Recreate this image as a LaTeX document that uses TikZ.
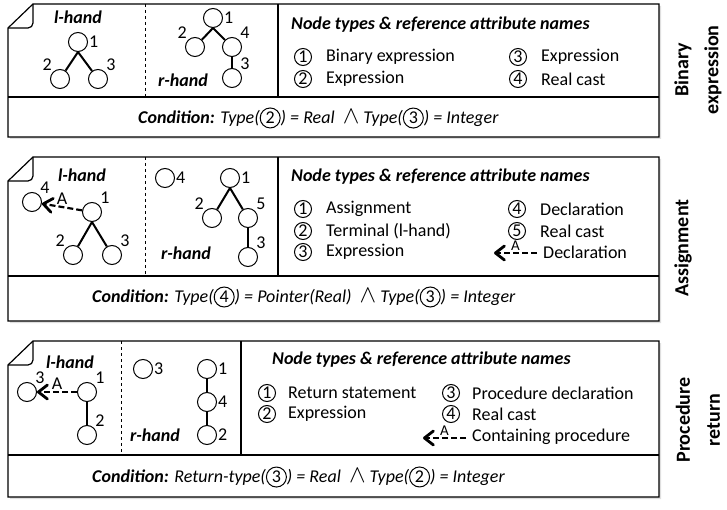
\documentclass[tikz,border=0pt]{standalone}
\usepackage{fontspec}
\setmainfont{Carlito}
\usetikzlibrary{arrows.meta,positioning,shadows}
\tikzset{>=latex}
\tikzset{
  tn/.style={circle,draw,line width=1pt,minimum size=19pt,inner sep=0pt},
  lbl/.style={font=\fontsize{18}{20}\selectfont,inner sep=1pt},
  hand/.style={font=\bfseries\itshape\fontsize{18}{20}\selectfont,inner sep=0pt},
  edge/.style={line width=2pt},
  aref/.style={line width=2.2pt,dash pattern=on 6pt off 3pt,
    arrows={-Straight Barb[length=9pt,width=14pt,line width=2.8pt,round]}},
  frame/.style={line width=1.2pt},
  head/.style={anchor=west,font=\bfseries\itshape\fontsize{18}{20}\selectfont,inner sep=0pt},
  cnum/.style={circle,draw,line width=1pt,minimum size=17pt,inner sep=0pt,
    font=\fontsize{18}{20}\selectfont},
  item/.style={font=\fontsize{18}{20}\selectfont,inner sep=0pt},
  cond/.style={anchor=west,font=\itshape\fontsize{18}{20}\selectfont,inner sep=0pt},
  side/.style={rotate=90,align=center,font=\bfseries\fontsize{20}{30}\selectfont}
}
\newcommand{\cn}[1]{\tikz[baseline=(cc.base)]\node[cnum,font=\upshape\fontsize{18}{20}\selectfont,minimum size=20pt] (cc) {#1};}
\newcommand{\andop}{\ \ {\fontsize{24}{24}\selectfont$\land$}\ }

\begin{document}
\begin{tikzpicture}[x=1pt,y=1pt]
    \useasboundingbox (0,0) rectangle (727,-510);

    % note frames
    \foreach \t/\b/\m/\d/\s in {4/137/97/145/278,157/321/276/145/278,341/497/455/121/241} {
      \draw [frame,fill=white,drop shadow={shadow xshift=2pt,shadow yshift=-2pt,fill=black!25}]
        (8,-\t-24) -- (33,-\t) -- (659,-\t) -- (659,-\b) -- (8,-\b) -- cycle;
      \draw [frame,rounded corners=5pt] (33,-\t) -- (33,-\t-24) -- (8,-\t-24);
      \draw [frame] (8,-\m) -- (659,-\m);
      \draw [frame] (\s,-\t) -- (\s,-\m);
      \draw [dashed,line width=0.8pt] (\d,-\t) -- (\d,-\m);
    }

    % binary expression
    \node [hand] at (78,-17) {l-hand};
    \node [tn,label={[lbl]right:1}] (a1) at (78,-42) {};
    \node [tn,label={[lbl]north west:2}] (a2) at (60,-79) {};
    \node [tn,label={[lbl]north east:3}] (a3) at (98,-79) {};
    \draw [edge] (a1.south) -- (a2);
    \draw [edge] (a1.south) -- (a3);

    \node [tn,label={[lbl]right:1}] (b1) at (213,-18) {};
    \node [tn,label={[lbl]north west:2}] (b2) at (195,-47) {};
    \node [tn,label={[lbl]north east:4}] (b4) at (232,-47) {};
    \node [tn,label={[lbl]north east:3}] (b3) at (232,-78) {};
    \draw [edge] (b1.south) -- (b2);
    \draw [edge] (b1.south) -- (b4);
    \draw [edge] (b4) -- (b3);
    \node [hand] at (183,-80) {r-hand};

    \node [head] (h1) at (291,-25) {Node types \& reference attribute names};
    \node [cnum] (c11) at (303,-57) {1};
    \node [item,right=14pt of c11] {Binary expression};
    \node [cnum] (c12) at (303,-79) {2};
    \node [item,right=14pt of c12] {Expression};
    \node [cnum] (c13) at (518,-57) {3};
    \node [item,right=14pt of c13] {Expression};
    \node [cnum] (c14) at (518,-79) {4};
    \node [item,right=14pt of c14] {Real cast};
    \node [cond] at (138,-118) {\textbf{Condition:} Type(\cn{2}) = Real\andop Type(\cn{3}) = Integer};
    \node [side] at (698,-70) {Binary\\expression};

    % assignment
    \node [hand] at (82,-175) {l-hand};
    \node [tn,label={[lbl]north east:4}] (d4) at (32,-202) {};
    \node [tn,label={[lbl]north east:1}] (d1) at (92,-212) {};
    \node [tn,label={[lbl]north west:2}] (d2) at (73,-255) {};
    \node [tn,label={[lbl]north east:3}] (d3) at (112,-255) {};
    \draw [edge] (d1.south) -- (d2);
    \draw [edge] (d1.south) -- (d3);
    \draw [aref] (d1) -- node [lbl,above] {A} (d4);

    \node [tn,label={[lbl]right:4}] (e4) at (165,-178) {};
    \node [tn,label={[lbl]right:1}] (e1) at (230,-178) {};
    \node [tn,label={[lbl]north west:2}] (e2) at (212,-218) {};
    \node [tn,label={[lbl]north east:5}] (e5) at (248,-218) {};
    \node [tn,label={[lbl]north east:3}] (e3) at (248,-257) {};
    \draw [edge] (e1.south) -- (e2);
    \draw [edge] (e1.south) -- (e5);
    \draw [edge] (e5) -- (e3);
    \node [hand] at (186,-253) {r-hand};

    \node [head] (h2) at (291,-177) {Node types \& reference attribute names};
    \node [cnum] (c21) at (303,-209) {1};
    \node [item,right=14pt of c21] {Assignment};
    \node [cnum] (c22) at (303,-231) {2};
    \node [item,right=14pt of c22] {Terminal (l-hand)};
    \node [cnum] (c23) at (303,-252) {3};
    \node [item,right=14pt of c23] {Expression};
    \node [cnum] (c24) at (517,-209) {4};
    \node [item,right=14pt of c24] {Declaration};
    \node [cnum] (c25) at (517,-231) {5};
    \node [item,right=14pt of c25] {Real cast};
    \coordinate (r2s) at (537,-253);
    \coordinate (r2e) at (494,-253);
    \draw [aref] (r2s) -- node [lbl,above,font=\fontsize{15}{18}\selectfont] {A} (r2e);
    \node [item,anchor=west] at (543,-252) {Declaration};
    \node [cond] at (92,-297) {\textbf{Condition:} Type(\cn{4}) = Pointer(Real)\andop Type(\cn{3}) = Integer};
    \node [side] at (683,-248) {Assignment};

    % procedure return
    \node [hand] at (70,-362) {l-hand};
    \node [tn,label={[lbl]north east:3}] (f3) at (27,-392) {};
    \node [tn,label={[lbl]north east:1}] (f1) at (87,-392) {};
    \node [tn,label={[lbl]north east:2}] (f2) at (87,-435) {};
    \draw [edge] (f1) -- (f2);
    \draw [aref] (f1) -- node [lbl,above] {A} (f3);

    \node [tn,label={[lbl]right:3}] (g3) at (143,-369) {};
    \node [tn,label={[lbl]right:1}] (g1) at (207,-369) {};
    \node [tn,label={[lbl]right:4}] (g4) at (207,-402) {};
    \node [tn,label={[lbl]right:2}] (g2) at (207,-435) {};
    \draw [edge] (g1) -- (g4);
    \draw [edge] (g4) -- (g2);
    \node [hand] at (155,-435) {r-hand};

    \node [head] (h3) at (272,-360) {Node types \& reference attribute names};
    \node [cnum] (c31) at (267,-393) {1};
    \node [item,right=12pt of c31] {Return statement};
    \node [cnum] (c32) at (267,-414) {2};
    \node [item,right=12pt of c32] {Expression};
    \node [cnum] (c33) at (451,-393) {3};
    \node [item,right=12pt of c33] {Procedure declaration};
    \node [cnum] (c34) at (451,-414) {4};
    \node [item,right=12pt of c34] {Real cast};
    \coordinate (r3s) at (466,-438);
    \coordinate (r3e) at (423,-438);
    \draw [aref] (r3s) -- node [lbl,above,font=\fontsize{15}{18}\selectfont] {A} (r3e);
    \node [item,anchor=west] at (472,-437) {Containing procedure};
    \node [cond] at (92,-477) {\textbf{Condition:} Return-type(\cn{3}) = Real\andop Type(\cn{2}) = Integer};
    \node [side] at (698,-420) {Procedure\\return};
\end{tikzpicture}
\end{document}
